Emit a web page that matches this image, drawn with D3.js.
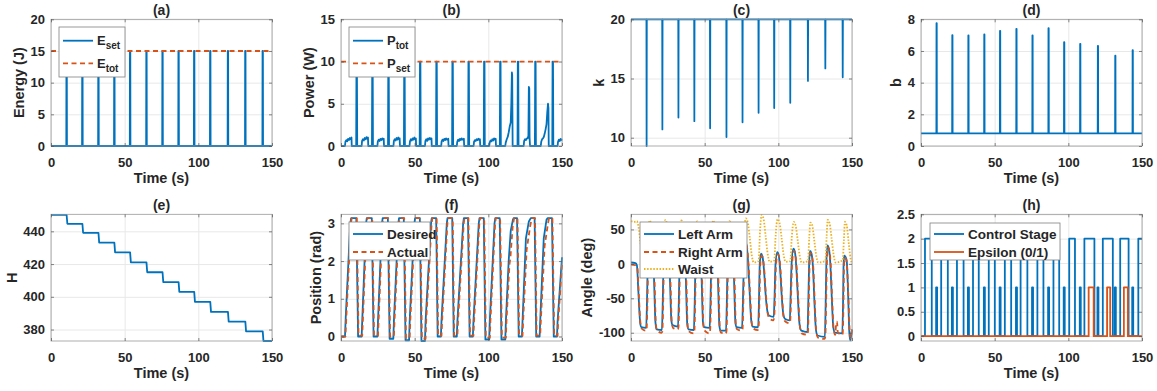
<!DOCTYPE html>
<html>
<head>
<meta charset="utf-8">
<script src="https://cdn.jsdelivr.net/npm/d3@7"></script>
<style>
body { margin: 0; background: #fff; }
svg text { font-family: "Liberation Sans", Arial, sans-serif; font-weight: bold; fill: #262626; }
</style>
</head>
<body>
<svg id="chart" width="1157" height="391"></svg>
<script>
// ---------- data ----------
const timeTicks = [0, 50, 100, 150];

// instants where the energy injection happens (s)
const spikeT = [10.6, 21.3, 32.2, 43.0, 53.7, 64.8, 75.7, 86.6, 97.2, 108.1, 120.1, 131.9, 143.7];

// (a) energy
const eSetPeak = [15, 15, 15, 15, 15, 15, 15, 15, 15, 15, 15, 15, 15];
const eTotLevel = 15;

// (b) power
const pSetLevel = 10;
const pTot = [
  [0,0],[2.7,0],[3.0,0.5],[3.6,0.7],[4.2,0.55],[4.8,0.85],[5.4,0.7],[6.0,0.95],[6.6,0.8],[7.1,1.0],[7.3,0],
  [10.3,0],[10.5,10],[10.8,10],[11.0,0],
  [14.0,0],[14.3,0.6],[14.9,0.8],[15.5,0.65],[16.1,0.95],[16.7,0.8],[17.3,1.05],[17.9,0.85],[18.3,1.0],[18.5,0],
  [21.0,0],[21.2,10],[21.5,10],[21.7,0],
  [24.7,0],[25.0,0.55],[25.6,0.75],[26.2,0.6],[26.8,0.85],[27.4,0.7],[28.0,0.9],[28.6,0.75],[29.0,0.85],[29.2,0],
  [31.9,0],[32.1,10],[32.4,10],[32.6,0],
  [35.6,0],[35.9,0.6],[36.5,0.8],[37.1,0.65],[37.7,0.95],[38.3,0.75],[38.9,1.0],[39.5,0.8],[39.8,0.9],[40.0,0],
  [42.7,0],[42.9,10],[43.2,10],[43.4,0],
  [46.5,0],[46.8,0.55],[47.4,0.8],[48.0,0.65],[48.6,0.9],[49.2,0.75],[49.8,1.0],[50.4,0.8],[50.8,0.9],[51.0,0],
  [53.4,0],[53.6,10],[53.9,10],[54.1,0],
  [57.0,0],[57.3,0.6],[57.9,0.8],[58.5,0.6],[59.1,0.9],[59.7,0.75],[60.3,0.95],[60.9,0.8],[61.4,0.9],[61.6,0],
  [64.5,0],[64.7,10],[65.0,10],[65.2,0],
  [68.0,0],[68.3,0.55],[68.9,0.75],[69.5,0.6],[70.1,0.85],[70.7,0.7],[71.3,0.9],[71.9,0.75],[72.8,0.85],[73.0,0],
  [75.4,0],[75.6,10],[75.9,10],[76.1,0],
  [78.6,0],[78.9,0.5],[79.5,0.75],[80.1,0.6],[80.7,0.85],[81.3,0.7],[81.9,0.9],[82.5,0.75],[83.4,0.85],[83.6,0],
  [86.3,0],[86.5,10],[86.8,10],[87.0,0],
  [90.0,0],[90.3,0.5],[90.9,0.7],[91.5,0.6],[92.1,0.8],[92.7,0.7],[93.3,0.85],[93.9,0.7],[94.3,0.8],[94.5,0],
  [96.9,0],[97.1,10],[97.4,10],[97.6,0],
  [100.6,0],[100.9,0.4],[101.5,0.65],[102.1,0.55],[102.7,0.8],[103.3,0.65],[103.9,0.9],[104.5,0.75],[105.0,0.85],[105.2,0],
  [107.8,0],[108.0,10],[108.3,10],[108.5,0],
  [111.5,0],[111.8,0.4],[112.5,0.8],[113.2,1.1],[113.8,1.6],[114.5,2.3],[115.2,2.8],[115.6,5.0],[116.0,8.7],[116.2,8.4],[116.5,0],
  [119.8,0],[120.0,10],[120.3,10],[120.5,0],
  [124.0,0],[124.3,0.6],[124.9,0.8],[125.5,0.7],[126.1,0.9],[126.7,0.9],[127.2,1.2],[127.5,7.0],[127.8,6.8],[128.0,1.0],[128.3,0],
  [131.6,0],[131.8,10],[132.1,10],[132.3,0],
  [135.6,0],[135.9,0.5],[136.5,0.8],[137.1,0.9],[137.7,1.1],[138.3,1.5],[138.9,2.0],[139.5,2.6],[140.0,4.0],[140.5,5.0],[140.8,4.5],[141.0,0],
  [143.4,0],[143.6,10],[143.9,10],[144.1,0],
  [147.0,0],[147.3,0.5],[147.9,0.75],[148.5,0.6],[149.1,0.85],[149.6,0.7],[150,0.8]
];

// (c) stiffness k, baseline and dips
const kBase = 20;
const kMin = [9.3, 10.7, 11.7, 11.4, 10.8, 10.05, 11.3, 12.1, 12.5, 12.95, 14.8, 15.85, 15.1];

// (d) damping b, baseline and peaks
const bBase = 0.8;
const bPeak = [7.75, 7.0, 6.98, 7.04, 7.27, 7.4, 6.98, 7.44, 6.55, 6.45, 6.32, 5.7, 6.05];

// (e) H staircase levels (one more than spikes)
const hLevel = [450, 444.6, 439.1, 433.1, 427.1, 421.0, 415.0, 409.0, 403.0, 396.9, 390.8, 384.8, 378.9, 373.0];

// (f) position
const posDesired = [
  [0,0],[2.7,0],[3.2,0.5],[6.3,3.0],[6.9,3.14],[10.4,3.14],[11.6,0],[14.0,0],[14.4,0.4],[17.0,3.0],[17.5,3.14],
  [20.9,3.14],[22.1,0],[24.7,0],[25.1,0.4],[27.8,3.0],[28.3,3.14],[31.8,3.14],[33.0,-0.06],[35.5,-0.06],[35.9,0.4],
  [38.9,3.0],[39.4,3.14],[42.6,3.14],[43.8,-0.1],[46.2,-0.1],[46.6,0.4],[49.8,3.0],[50.3,3.14],[53.5,3.14],
  [54.6,-0.12],[57.0,-0.12],[57.4,0.4],[61.1,3.0],[61.6,3.14],[64.6,3.14],[65.6,0],[67.8,0],[68.2,0.4],[71.8,3.0],
  [72.3,3.14],[75.5,3.14],[76.5,0],[78.6,0],[79.0,0.4],[82.9,3.0],[83.4,3.14],[86.2,3.14],[87.3,0],[89.5,0],
  [89.9,0.4],[93.5,3.0],[94.0,3.14],[96.9,3.14],[98.0,-0.08],[100.6,-0.08],[101.0,0.4],[104.2,3.0],[104.7,3.14],
  [107.7,3.14],[108.9,-0.08],[111.5,-0.08],[111.9,0.4],[113.8,2.0],[115.2,2.8],[116.7,3.1],[117.2,3.14],[119.5,3.14],
  [120.6,0],[122.8,0],[123.2,0.4],[125.5,2.6],[127.5,3.05],[128.8,3.14],[131.4,3.14],[132.5,0],[134.8,0],[135.2,0.4],
  [137.6,2.6],[139.5,3.1],[140.3,3.14],[143.2,3.14],[144.4,0],[146.6,0],[147.0,0.4],[150,2.1]
];
const posActual = [
  [0,0],[3.0,0],[3.6,0.5],[6.7,3.0],[7.3,3.14],[10.7,3.14],[11.9,0.02],[14.4,0.02],[14.8,0.4],[17.4,3.0],[17.9,3.14],
  [21.2,3.14],[22.4,0.02],[25.1,0.02],[25.5,0.4],[28.2,3.0],[28.7,3.14],[32.1,3.14],[33.3,0],[35.9,0],[36.3,0.4],
  [39.3,3.0],[39.8,3.14],[42.9,3.14],[44.1,-0.04],[46.6,-0.04],[47.0,0.4],[50.2,3.0],[50.7,3.14],[53.8,3.14],
  [54.9,-0.06],[57.4,-0.06],[57.8,0.4],[61.5,3.0],[62.0,3.14],[64.9,3.14],[65.9,0.02],[68.2,0.02],[68.6,0.4],[72.2,3.0],
  [72.7,3.14],[75.8,3.14],[76.8,0.02],[79.0,0.02],[79.4,0.4],[83.3,3.0],[83.8,3.14],[86.5,3.14],[87.6,0.02],[89.9,0.02],
  [90.3,0.4],[93.9,3.0],[94.4,3.14],[97.2,3.14],[98.3,-0.03],[101.0,-0.03],[101.4,0.4],[104.6,3.0],[105.1,3.14],
  [108.0,3.14],[109.2,-0.03],[111.9,-0.03],[112.3,0.4],[114.3,1.9],[115.0,2.1],[116.5,2.9],[117.5,3.14],[119.8,3.14],
  [120.9,0.02],[123.2,0.02],[123.6,0.4],[126.0,2.3],[128.5,2.95],[129.5,3.14],[131.7,3.14],[132.8,0.02],[135.2,0.02],
  [135.6,0.4],[138.2,2.4],[140.5,3.0],[141.2,3.14],[143.5,3.14],[144.7,0.02],[147.0,0.02],[147.4,0.4],[150,1.9]
];

// (g) joint angles (deg)
const leftArm = [
  [0,2],[3,1],[4,-2],[5,-40],[6.2,-85],[7,-92],[10.3,-93],[10.8,-60],[11.4,0],[12,15],[15,12],[15.6,-20],[16.6,-85],
  [17.4,-95],[21.0,-96],[21.5,-60],[22.1,0],[22.7,15],[25.8,12],[26.4,-20],[27.4,-82],[28.2,-89],[31.9,-91],[32.4,-60],
  [33.0,0],[33.6,15],[36.6,12],[37.2,-20],[38.2,-88],[39.0,-95],[42.7,-96],[43.2,-60],[43.8,0],[44.4,15],[47.3,12],
  [47.9,-20],[48.9,-86],[49.7,-92],[53.4,-93],[53.9,-60],[54.5,0],[55.1,15],[58.4,12],[59.0,-20],[60,-90],[60.8,-97],
  [64.5,-97],[65.0,-60],[65.6,0],[66.2,15],[69.3,12],[69.9,-20],[70.9,-86],[71.7,-92],[75.4,-93],[75.9,-60],[76.6,0],
  [77.8,32],[78.6,25],[79.4,5],[80.5,-40],[81.6,-82],[82.6,-91],[86.3,-92],[86.8,-60],[87.4,0],[88.3,15],[89.3,10],
  [90.3,-10],[91.4,-45],[92.5,-68],[93.6,-75],[96.9,-77],[97.4,-50],[98.1,0],[99.3,17],[100.3,12],[101.3,-10],
  [102.4,-50],[103.5,-75],[104.6,-80],[107.8,-82],[108.3,-50],[109.0,0],[110.2,22],[111.2,18],[112.2,-5],[113.3,-50],
  [114.4,-88],[115.6,-97],[119.8,-99],[120.3,-60],[120.9,0],[121.5,19],[122.5,15],[123.5,-5],[124.5,-55],[125.5,-95],
  [126.6,-104],[131.6,-106],[132.1,-60],[132.6,0],[133.3,27],[134.3,22],[135.3,0],[136.3,-50],[137.3,-92],[138.4,-100],
  [143.4,-101],[143.9,-60],[144.3,0],[144.8,12],[145.6,10],[146.4,5],[147.3,-40],[148.2,-100],[148.8,-111],[149.4,-105],[150,-95]
];
const rightArm = [
  [0,-1],[3,-2],[4.3,-5],[5.3,-45],[6.5,-88],[7.3,-94],[10.2,-97],[10.6,-95],[11.1,-60],[11.7,0],[12.3,12],[15.3,10],
  [15.9,-20],[16.9,-88],[17.7,-97],[20.8,-100],[21.3,-98],[21.8,-60],[22.4,0],[23,12],[26.1,10],[26.7,-20],[27.7,-85],
  [28.5,-93],[31.7,-95],[32.2,-92],[32.7,-60],[33.3,0],[33.9,12],[36.9,10],[37.5,-20],[38.5,-91],[39.3,-98],[42.5,-101],
  [43,-98],[43.5,-60],[44.1,0],[44.7,12],[47.6,10],[48.2,-20],[49.2,-90],[50,-97],[53.2,-101],[53.7,-97],[54.2,-60],
  [54.8,0],[55.4,12],[58.7,10],[59.3,-20],[60.3,-93],[61.1,-100],[64.3,-101],[64.8,-98],[65.3,-60],[65.9,0],[66.5,12],
  [69.6,10],[70.2,-20],[71.2,-89],[72,-95],[75.2,-97],[75.7,-95],[76.2,-60],[76.9,-2],[78.1,28],[78.9,22],[79.7,2],
  [80.8,-44],[81.9,-85],[82.9,-94],[86.1,-96],[86.6,-93],[87.1,-60],[87.7,-2],[88.6,12],[89.6,8],[90.6,-13],[91.7,-48],
  [92.8,-72],[93.9,-79],[96.5,-82],[97.2,-78],[97.7,-50],[98.4,-2],[99.6,14],[100.6,10],[101.6,-13],[102.7,-54],
  [103.8,-80],[104.9,-84],[107.6,-86],[108.1,-82],[108.6,-50],[109.3,-2],[110.5,19],[111.5,15],[112.5,-8],[113.6,-54],
  [114.7,-92],[115.9,-101],[119.6,-103],[120.1,-99],[120.6,-60],[121.2,-2],[121.8,16],[122.8,12],[123.8,-8],[124.8,-60],
  [125.8,-99],[126.9,-107],[131.4,-109],[131.9,-106],[132.4,-60],[132.9,-2],[133.6,24],[134.6,19],[135.6,-3],[136.6,-55],
  [137.6,-96],[138.6,-103],[139.3,-86],[139.8,-84],[140.4,-100],[143.2,-103],[143.7,-101],[144.2,-60],[144.6,-2],
  [145.1,9],[145.9,7],[146.7,-5],[147.6,-50],[148.5,-100],[149.1,-108],[149.6,-102],[150,-96]
];
const waist = [
  [0,62],[2,61],[4,62],[5,55],[6.5,30],[8,10],[9.5,4],[10.6,5],[11.6,40],[12.6,63],[13.6,58],[15,35],[16.5,12],[18,3],
  [21.3,4],[22.3,40],[23.3,64],[24.3,59],[25.7,35],[27.2,12],[28.7,3],[32.2,4],[33.2,40],[34.2,63],[35.2,58],[36.6,35],
  [38.1,12],[39.6,3],[43,4],[44,40],[45,62],[46,58],[47.4,35],[48.9,12],[50.4,3],[53.7,4],[54.7,40],[55.7,63],[56.7,58],
  [58.1,35],[59.6,12],[61.1,3],[64.8,4],[65.8,40],[66.8,62],[67.8,57],[69.2,35],[70.7,12],[72.2,3],[75.7,4],[76.7,45],
  [77.9,66],[79.2,61],[80.6,38],[82.0,12],[83.3,2],[86.6,4],[87.6,48],[88.7,71],[90.0,65],[91.4,40],[92.8,14],[94.1,3],
  [97.2,5],[98.2,42],[99.5,65],[100.8,60],[102.2,38],[103.6,13],[104.9,3],[108.1,4],[109.1,38],[110.4,61],[111.7,56],
  [113.1,35],[114.5,12],[115.8,2],[120.1,4],[121.0,38],[121.7,60],[123.0,56],[124.4,34],[125.8,11],[127.1,2],[131.9,4],
  [132.8,40],[133.5,64],[134.8,59],[136.2,36],[137.6,12],[138.9,2],[143.7,5],[144.5,35],[145.2,61],[146.4,56],[147.8,30],
  [149,8],[150,0]
];

// (h) control stage / epsilon
const stage2 = [[2.7,7.3],[13.7,18.2],[24.4,28.9],[35.3,39.2],[46.0,50.1],[56.9,61.2],[67.6,72.2],[79.0,83.1],
  [89.9,93.8],[100.6,104.5],[110.9,117.7],[123.4,130.2],[135.2,140.9],[147.5,150]];
const epsilonOn = [[113.8,117.2],[126.3,128.4],[137.7,140.4]];

// ---------- turn event lists into polylines ----------
function pulses(times, peaks, base, hw, edge) {
  const pts = [[0, base]];
  times.forEach((t, i) => {
    pts.push([t - hw - edge, base], [t - hw, peaks[i]], [t + hw, peaks[i]], [t + hw + edge, base]);
  });
  pts.push([150, base]);
  return pts;
}
function steps(times, levels, ramp) {
  const pts = [[0, levels[0]]];
  times.forEach((t, i) => { pts.push([t, levels[i]], [t + ramp, levels[i + 1]]); });
  pts.push([150, levels[levels.length - 1]]);
  return pts;
}
function stageLine() {
  const ev = [];
  stage2.forEach(d => ev.push([d[0], d[1], 2]));
  spikeT.forEach(t => ev.push([t - 0.35, t + 0.35, 1]));
  ev.sort((a, b) => a[0] - b[0]);
  const pts = [[0, 0]];
  ev.forEach(e => {
    pts.push([e[0], 0], [e[0], e[2]], [e[1], e[2]]);
    if (e[1] < 150) pts.push([e[1], 0]);
  });
  if (pts[pts.length - 1][0] < 150) pts.push([150, 0]);
  return pts;
}
function onOff(list) {
  const pts = [[0, 0]];
  list.forEach(d => pts.push([d[0], 0], [d[0], 1], [d[1], 1], [d[1], 0]));
  pts.push([150, 0]);
  return pts;
}

// ---------- drawing ----------
const blue = '#0072BD', red = '#D95319', yellow = '#EDB120';
const svg = d3.select('#chart');
const colLeft = [51, 341, 631, 921], rowTop = [19.3, 214.3];
const pw = 221, ph = 126.7;
const dashed = '5,3.5', dotted = '1.5,1.6';

const panels = [
  {col:0, row:0, title:'(a)', ylab:'Energy (J)', yDomain:[0,20], yTicks:[0,5,10,15,20],
   series:[{d:pulses(spikeT, eSetPeak, 0, 0.12, 0.1), c:blue},
           {d:[[0,eTotLevel],[150,eTotLevel]], c:red, dash:dashed}],
   legend:{x:59, y:27, w:66, h:50, items:[{y:40.7, t:'E', sub:'set', c:blue}, {y:63.3, t:'E', sub:'tot', c:red, dash:dashed}]}},
  {col:1, row:0, title:'(b)', ylab:'Power (W)', yDomain:[0,15], yTicks:[0,5,10,15],
   series:[{d:pTot, c:blue}, {d:[[0,pSetLevel],[150,pSetLevel]], c:red, dash:dashed}],
   legend:{x:349, y:27, w:66, h:50, items:[{y:40.7, t:'P', sub:'tot', c:blue}, {y:63.3, t:'P', sub:'set', c:red, dash:dashed}]}},
  {col:2, row:0, title:'(c)', ylab:'k', yDomain:[9.3,20], yTicks:[10,15,20],
   series:[{d:pulses(spikeT, kMin, kBase, 0, 0.12), c:blue}]},
  {col:3, row:0, title:'(d)', ylab:'b', yDomain:[0,8], yTicks:[0,2,4,6,8],
   series:[{d:pulses(spikeT, bPeak, bBase, 0.08, 0.08), c:blue}]},
  {col:0, row:1, title:'(e)', ylab:'H', yDomain:[373,450.4], yTicks:[380,400,420,440],
   series:[{d:steps(spikeT, hLevel, 0.5), c:blue}]},
  {col:1, row:1, title:'(f)', ylab:'Position (rad)', yDomain:[-0.12,3.24], yTicks:[0,1,2,3],
   series:[{d:posDesired, c:blue}, {d:posActual, c:red, dash:dashed}],
   legend:{x:349, y:222, w:81, h:38, items:[{y:234, t:'Desired', c:blue}, {y:252, t:'Actual', c:red, dash:dashed}]}},
  {col:2, row:1, title:'(g)', ylab:'Angle (deg)', yDomain:[-112,72], yTicks:[-100,-50,0,50],
   series:[{d:leftArm, c:blue, curve:true}, {d:rightArm, c:red, dash:dashed, curve:true}, {d:waist, c:yellow, dash:dotted, curve:true}],
   legend:{x:640, y:222, w:107, h:56, items:[{y:234, t:'Left Arm', c:blue}, {y:252, t:'Right Arm', c:red, dash:dashed},
           {y:269, t:'Waist', c:yellow, dash:dotted}]}},
  {col:3, row:1, title:'(h)', ylab:'', yDomain:[-0.1,2.5], yTicks:[0,0.5,1,1.5,2,2.5],
   series:[{d:stageLine(), c:blue}, {d:onOff(epsilonOn), c:red}],
   legend:{x:930, y:223, w:130, h:37, items:[{y:234, t:'Control Stage', c:blue}, {y:252, t:'Epsilon (0/1)', c:red}]}}
];

function cleanAxis(sel) {
  sel.attr('font-family', null).attr('font-size', null);
  sel.select('.domain').remove();
}

panels.forEach((p, i) => {
  const left = colLeft[p.col], top = rowTop[p.row];
  const x = d3.scaleLinear().domain([0, 150]).range([left, left + pw]);
  const y = d3.scaleLinear().domain(p.yDomain).range([top + ph, top]);
  const g = svg.append('g');

  // grid
  const gx = g.append('g').attr('transform', `translate(0,${top + ph})`)
    .call(d3.axisBottom(x).tickValues(timeTicks).tickSize(-ph).tickFormat(''));
  const gy = g.append('g').attr('transform', `translate(${left},0)`)
    .call(d3.axisLeft(y).tickValues(p.yTicks).tickSize(-pw).tickFormat(''));
  [gx, gy].forEach(a => { cleanAxis(a); a.selectAll('line').attr('stroke', '#e8e8e8').attr('stroke-width', 1); });

  // data
  const cid = 'clip' + i;
  svg.append('clipPath').attr('id', cid).append('rect')
    .attr('x', left - 1).attr('y', top - 1.2).attr('width', pw + 2).attr('height', ph + 2.4);
  const plot = g.append('g').attr('clip-path', `url(#${cid})`);
  p.series.forEach(s => {
    const line = d3.line().x(d => x(d[0])).y(d => y(d[1]));
    if (s.curve) line.curve(d3.curveMonotoneX);
    plot.append('path').datum(s.d).attr('d', line).attr('fill', 'none')
      .attr('stroke', s.c).attr('stroke-width', 1.8).attr('stroke-linejoin', 'round')
      .attr('stroke-dasharray', s.dash || null);
  });

  // box
  g.append('rect').attr('x', left).attr('y', top).attr('width', pw).attr('height', ph)
    .attr('fill', 'none').attr('stroke', '#999').attr('stroke-width', 0.8);

  // ticks + labels
  const ax = g.append('g').attr('transform', `translate(0,${top + ph})`)
    .call(d3.axisBottom(x).tickValues(timeTicks).tickSize(-3).tickSizeOuter(0).tickPadding(11.3).tickFormat(d => String(d)));
  const ay = g.append('g').attr('transform', `translate(${left},0)`)
    .call(d3.axisLeft(y).tickValues(p.yTicks).tickSize(-3).tickSizeOuter(0).tickPadding(6).tickFormat(d => String(d)));
  const at = g.append('g').attr('transform', `translate(0,${top})`)
    .call(d3.axisTop(x).tickValues(timeTicks).tickSize(-3).tickSizeOuter(0).tickFormat(''));
  const ar = g.append('g').attr('transform', `translate(${left + pw},0)`)
    .call(d3.axisRight(y).tickValues(p.yTicks).tickSize(-3).tickSizeOuter(0).tickFormat(''));
  [ax, ay, at, ar].forEach(a => {
    cleanAxis(a);
    a.selectAll('line').attr('stroke', '#555').attr('stroke-width', 0.7);
    a.selectAll('text').style('font-size', '13px');
  });

  // titles and axis labels
  g.append('text').attr('x', left + pw / 2).attr('y', top - 4.3).attr('text-anchor', 'middle')
    .style('font-size', '14px').text(p.title);
  g.append('text').attr('x', left + pw / 2).attr('y', top + ph + 36.7).attr('text-anchor', 'middle')
    .style('font-size', '14.5px').text('Time (s)');
  if (p.ylab) {
    let maxW = 0;
    ay.selectAll('text').each(function () { maxW = Math.max(maxW, this.getComputedTextLength()); });
    const lx = left - 6 - maxW - 6.5;
    g.append('text').attr('transform', `translate(${lx},${top + ph / 2}) rotate(-90)`)
      .attr('text-anchor', 'middle').style('font-size', '14.5px').text(p.ylab);
  }

  // legend
  if (p.legend) {
    const lg = p.legend;
    const lgG = svg.append('g');
    lgG.append('rect').attr('x', lg.x).attr('y', lg.y).attr('width', lg.w).attr('height', lg.h)
      .attr('fill', '#fff').attr('stroke', '#808080').attr('stroke-width', 0.8);
    lg.items.forEach(it => {
      lgG.append('line').attr('x1', lg.x + 4).attr('x2', lg.x + 34).attr('y1', it.y).attr('y2', it.y)
        .attr('stroke', it.c).attr('stroke-width', 1.8).attr('stroke-dasharray', it.dash || null);
      const t = lgG.append('text').attr('x', lg.x + 38).attr('y', it.y + (it.sub ? 4.3 : 4.8))
        .style('font-size', it.sub ? '13px' : '13.5px').text(it.t);
      if (it.sub) t.append('tspan').attr('dy', 4.3).style('font-size', '10px').text(it.sub);
    });
  }
});
</script>
</body>
</html>
